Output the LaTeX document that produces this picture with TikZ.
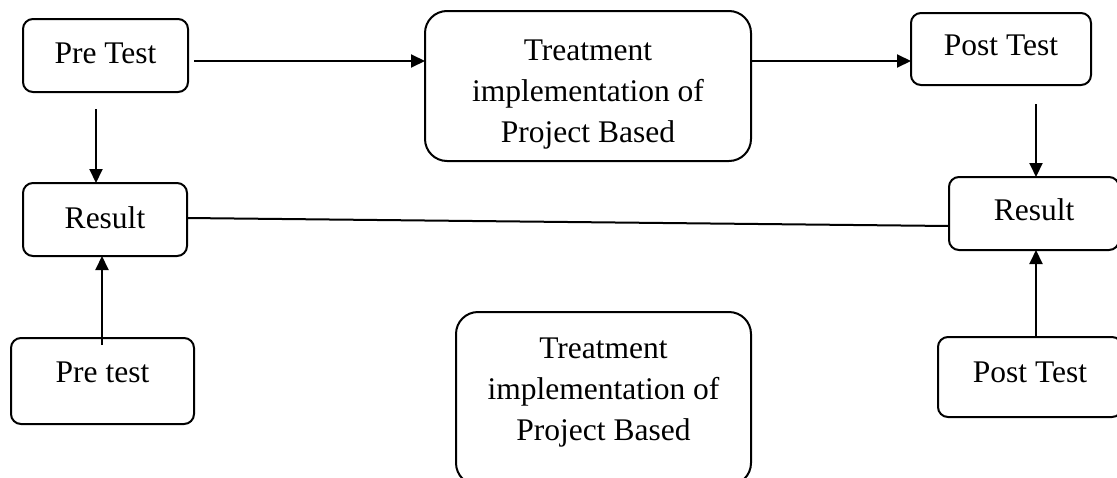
\documentclass[tikz,border=0pt]{standalone}
\usepackage{fontspec}
\setmainfont{Liberation Serif}
\usetikzlibrary{arrows.meta}
\tikzset{
  box/.style={draw, line width=2pt, rounded corners=10pt, inner sep=0pt, outer sep=0pt, anchor=base},
  bigbox/.style={box, rounded corners=22pt},
  arr/.style={line width=2pt, -{Triangle[length=14pt,width=13pt]}},
  ln/.style={line width=2pt}
}
\begin{document}
\begin{tikzpicture}[x=1pt, y=-1pt, font=\fontsize{31.5}{41}\selectfont]
\useasboundingbox (0,0) rectangle (1117,477);
\clip (0,0) rectangle (1117,477);
\node[box, minimum width=165pt, text height=44pt, text depth=29pt] (pretest) at (105.5,63) {Pre Test};
\node[box, minimum width=164pt, text height=45pt, text depth=28pt] (result1) at (105,228) {Result};
\node[box, minimum width=183pt, text height=44pt, text depth=42pt] (pretest2) at (102.5,382) {Pre test};
\node[box, minimum width=180pt, text height=42pt, text depth=30pt] (posttest) at (1001,55) {Post Test};
\node[box, minimum width=170pt, text height=43pt, text depth=30pt] (result2) at (1034,220) {Result};
\node[box, minimum width=184pt, text height=45pt, text depth=35pt] (posttest2) at (1030,382) {Post Test};
\node[bigbox, minimum width=326pt, text height=131pt, text depth=19pt] (treat1) at (588,142)
  {\begin{tabular}[b]{@{}c@{}}Treatment\\implementation of\\Project Based\end{tabular}};
\node[bigbox, minimum width=295pt, text height=128pt, text depth=45pt] (treat2) at (603.5,440)
  {\begin{tabular}[b]{@{}c@{}}Treatment\\implementation of\\Project Based\end{tabular}};

\coordinate (a1) at ([xshift=6pt,yshift=-5.5pt]pretest.east);
\draw[arr] (a1) -- (a1 -| treat1.west);
\coordinate (a2) at ([yshift=-12pt]posttest.west);
\draw[arr] (a2 -| treat1.east) -- (a2);
\coordinate (a3) at ([xshift=-9.5pt,yshift=-17pt]pretest.south);
\draw[arr] (a3) -- (a3 |- result1.north);
\coordinate (a4) at ([xshift=35pt,yshift=-19pt]posttest.south);
\draw[arr] (a4) -- (a4 |- result2.north);
\draw[ln] ([yshift=1.5pt]result1.east) -- ([yshift=-12.5pt]result2.west);
\coordinate (a5) at ([xshift=-0.5pt,yshift=-7pt]pretest2.north);
\draw[arr] (a5) -- (a5 |- result1.south);
\coordinate (a6) at ([xshift=6pt]posttest2.north);
\draw[arr] (a6) -- (a6 |- result2.south);
\end{tikzpicture}
\end{document}
